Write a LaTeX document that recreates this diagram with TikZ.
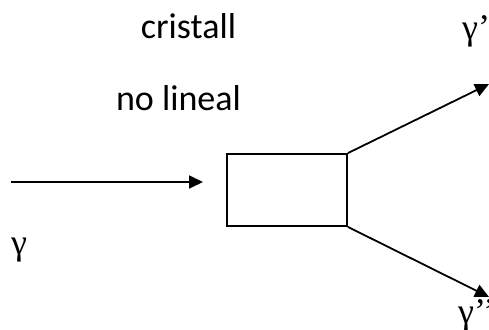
\documentclass[tikz,border=0pt]{standalone}
\usepackage{fontspec}
\setmainfont{Carlito}
\newfontfamily\greekfont{Liberation Serif}
\usetikzlibrary{arrows.meta}
% photon symbol with an optional run of primes
\newcommand\gsym[1]{{\greekfont\fontsize{36}{40}\selectfont γ#1}}
\begin{document}
\begin{tikzpicture}[x=1pt,y=-1pt,
  conn/.style={line width=1.8pt,-{Triangle[length=14pt,width=13pt]}},
  lbl/.style={font=\fontsize{36}{40}\selectfont,anchor=base,inner sep=0pt},
  glbl/.style={inner sep=0pt,anchor=base west}]
\useasboundingbox (0,0) rectangle (489,329);
\node[draw,line width=1.8pt,minimum width=120pt,minimum height=72pt,inner sep=0pt] (box) at (287,190) {};
\coordinate (in) at (11,182);
\coordinate (out1) at (489,84);
\coordinate (out2) at (489,297);
\draw[conn] (in) -- (203,182);
\draw[conn] (box.north east) -- (out1);
\draw[conn] (box.south east) -- (out2);
\node[lbl] (t1) at (188.5,39) {cristall};
\node[lbl] (t2) at (178.5,110) {no lineal};
\node[glbl] (g) at (11,254) {\gsym{}};
\node[glbl] (g1) at (462,40) {\gsym{’}};
\node[glbl] (g2) at (458,323) {\gsym{’’}};
\end{tikzpicture}
\end{document}
